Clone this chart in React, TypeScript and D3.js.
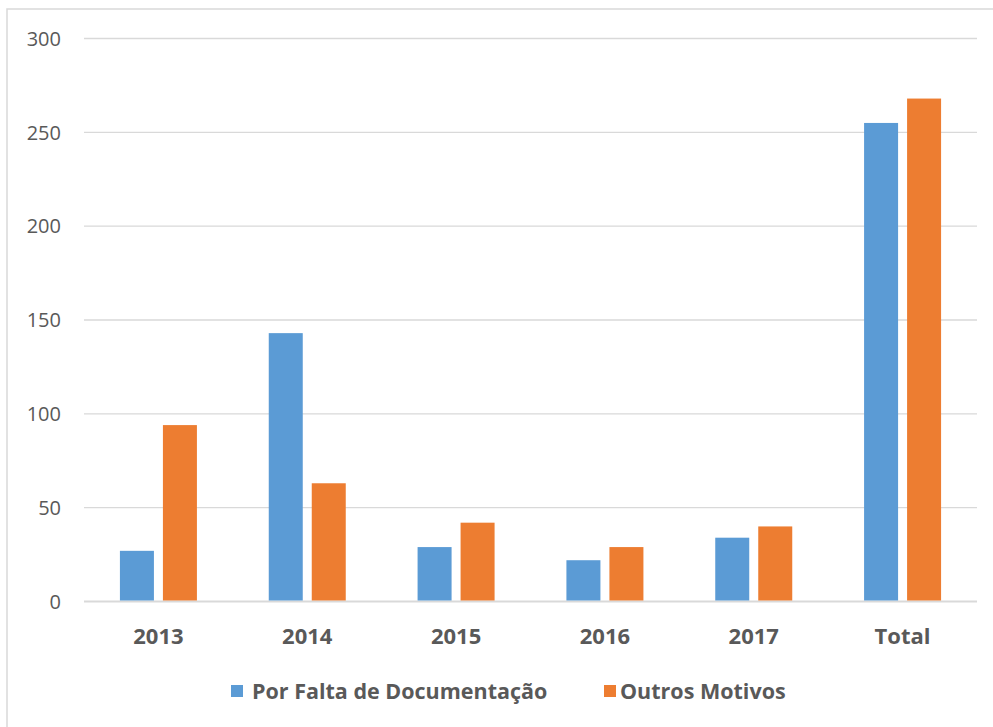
import React from "react";
import * as d3 from "d3";

const categories = ["2013", "2014", "2015", "2016", "2017", "Total"];
const seriesNames = ["Por Falta de Documentação", "Outros Motivos"];
const faltaDocumentacao = [27, 143, 29, 22, 34, 255];
const outrosMotivos = [94, 63, 42, 29, 40, 268];
const yTicks = [0, 50, 100, 150, 200, 250, 300];
const colors = ["#5B9BD5", "#ED7D31"];

const W = 993;
const H = 727;
const plotLeft = 84;
const plotRight = 977;
const plotTop = 38.5;
const plotBottom = 601.5;
const FONT = "'Open Sans', 'Noto Sans', sans-serif";

export default function App() {
  const x = d3.scaleBand<string>().domain(categories).range([plotLeft, plotRight]);
  const y = d3.scaleLinear().domain([0, 300]).range([plotBottom, plotTop]);
  const barW = 34;
  const gap = 4.5;
  const series = [faltaDocumentacao, outrosMotivos];

  return (
    <svg
      width={W}
      height={H}
      style={{ position: "absolute", left: 0, top: 0, background: "#fff" }}
    >
      <rect x={7} y={9} width={W + 10} height={H + 10} fill="#fff" stroke="#d9d9d9" strokeWidth={1.5} />
      {yTicks.map((t) => (
        <g key={t}>
          <line x1={plotLeft} x2={plotRight} y1={y(t)} y2={y(t)} stroke="#d9d9d9" strokeWidth={t === 0 ? 2 : 1.3} />
          <text
            x={61}
            y={y(t)}
            dy="0.36em"
            textAnchor="end"
            fontFamily={FONT}
            fontSize={20}
            fill="#595959"
          >
            {t}
          </text>
        </g>
      ))}
      {categories.map((c, i) => {
        const cx = (x(c) as number) + x.bandwidth() / 2;
        return (
          <g key={c}>
            {series.map((s, j) => {
              const bx = j === 0 ? cx - gap - barW : cx + gap;
              return (
                <rect
                  key={j}
                  x={bx}
                  y={y(s[i])}
                  width={barW}
                  height={plotBottom - y(s[i]) - 1}
                  fill={colors[j]}
                />
              );
            })}
            <text
              x={cx}
              y={644}
              textAnchor="middle"
              fontFamily={FONT}
              fontWeight="bold"
              fontSize={22}
              fill="#595959"
            >
              {c}
            </text>
          </g>
        );
      })}
      {[
        { sx: 231, tx: 252 },
        { sx: 604, tx: 620 },
      ].map((p, j) => (
        <g key={j}>
          <rect x={p.sx} y={685} width={12} height={12} fill={colors[j]} />
          <text
            x={p.tx}
            y={699}
            fontFamily={FONT}
            fontWeight="bold"
            fontSize={21.5}
            fill="#595959"
          >
            {seriesNames[j]}
          </text>
        </g>
      ))}
    </svg>
  );
}
